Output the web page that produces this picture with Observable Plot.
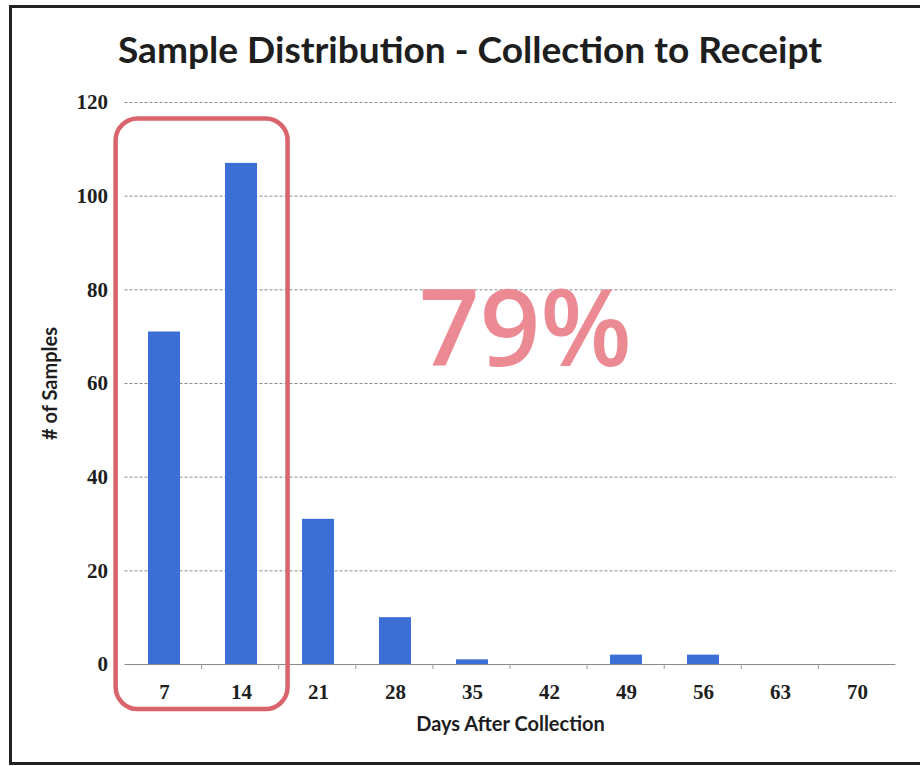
<!DOCTYPE html>
<html>
<head>
<meta charset="utf-8">
<script src="https://cdn.jsdelivr.net/npm/d3@7"></script>
<script src="https://cdn.jsdelivr.net/npm/@observablehq/plot@0.6"></script>
<style>
  html, body { margin: 0; padding: 0; background: #fff; overflow: hidden; }
  #wrap { position: relative; width: 920px; height: 766px; overflow: hidden; background: #fff; }
  #frame { position: absolute; left: 9px; top: 5px; width: 930px; height: 754px; border: 3px solid #222; box-sizing: content-box; }
  #title { position: absolute; left: 0; top: 0; }
  #chart { position: absolute; left: 0; top: 84px; }
</style>
</head>
<body>
<div id="wrap">
  <div id="frame"></div>
  <svg id="title" width="920" height="84">
    <text x="470" y="63" text-anchor="middle" font-family="Lato, 'Open Sans', sans-serif" font-weight="700" font-size="36" fill="#1e1e1e" textLength="704" lengthAdjust="spacingAndGlyphs">Sample Distribution - Collection to Receipt</text>
  </svg>
  <div id="chart"></div>
</div>
<script>
// ---- data ----
const days = ["7", "14", "21", "28", "35", "42", "49", "56", "63", "70"];
const samples = [71, 107, 31, 10, 1, 0, 2, 2, 0, 0];
const yTicks = [0, 20, 40, 60, 80, 100, 120];
const highlighted = ["7", "14"];
const xTitle = "Days After Collection";
const yTitle = "# of Samples";

const rows = days.map((d, i) => ({day: d, count: samples[i]}));
const total = d3.sum(samples);
const hiSum = d3.sum(rows.filter(r => highlighted.includes(r.day)), r => r.count);
const pctLabel = Math.floor(100 * hiSum / total) + "%";

const plot = Plot.plot({
  width: 920,
  height: 682,
  marginLeft: 124.5,
  marginRight: 24.5,
  marginTop: 18,
  marginBottom: 102,
  style: {fontFamily: "'Liberation Serif', 'DejaVu Serif', serif", fontSize: "21px", fontWeight: "bold", color: "#1e1e1e", background: "transparent"},
  x: {domain: days, paddingInner: 0.59, paddingOuter: 0.295, tickSize: 0, tickPadding: 20, label: null},
  y: {domain: [0, 120], ticks: yTicks, tickSize: 0, tickPadding: 17, label: null},
  marks: [
    Plot.ruleY(yTicks.filter(t => t > 0), {stroke: "#8a8a8a", strokeWidth: 1, strokeDasharray: "3,2"}),
    Plot.ruleY([0], {stroke: "#8a8a8a", strokeWidth: 1.2}),
    Plot.barY(rows, {x: "day", y: "count", fill: "#3b6fd6"}),
    Plot.text([pctLabel], {x: () => "42", y: () => 71, dx: -24, text: d => d, fill: "#ec8a94", fontSize: 106, fontFamily: "'Open Sans', Lato, sans-serif", fontWeight: 600, textAnchor: "middle", lineAnchor: "middle"}),
    Plot.text([xTitle], {frameAnchor: "bottom", dy: 60, text: d => d, fontFamily: "Lato, 'Open Sans', sans-serif", fontWeight: 700, fontSize: 20, fill: "#1e1e1e", lineAnchor: "middle"}),
    Plot.text([yTitle], {frameAnchor: "left", dx: -74, rotate: -90, text: d => d, fontFamily: "Lato, 'Open Sans', sans-serif", fontWeight: 700, fontSize: 20, fill: "#1e1e1e", lineAnchor: "middle", textAnchor: "middle"})
  ]
});
document.getElementById("chart").appendChild(plot);

// annotation overlay computed from the plot's own scales
const xs = plot.scale("x"), ys = plot.scale("y");
const xb = d3.scaleBand(xs.domain, xs.range)
  .paddingInner(xs.paddingInner ?? 0.59)
  .paddingOuter(xs.paddingOuter ?? 0.295)
  .align(xs.align ?? 0.5);
const yl = d3.scaleLinear(ys.domain, ys.range);
const step = xb.step(), bw = xb.bandwidth();
const svg = d3.select(plot);

// small category separator ticks under the baseline
const g = svg.append("g").attr("stroke", "#999").attr("stroke-width", 1);
days.slice(1).forEach(d => {
  const bx = xb(d) - (step - bw) / 2;
  g.append("line").attr("x1", bx).attr("x2", bx).attr("y1", yl(0)).attr("y2", yl(0) + 5);
});

// highlight box around the first two categories
const hx1 = xb(highlighted[0]) - step * 0.41;
const hx2 = xb(highlighted[highlighted.length - 1]) + bw + step * 0.41;
const hy1 = yl(116.5);
const hy2 = yl(0) + 45;
svg.append("rect")
  .attr("x", hx1).attr("y", hy1)
  .attr("width", hx2 - hx1).attr("height", hy2 - hy1)
  .attr("rx", 22).attr("ry", 22)
  .attr("fill", "none").attr("stroke", "#d9646c").attr("stroke-width", 4.5);
</script>
</body>
</html>
